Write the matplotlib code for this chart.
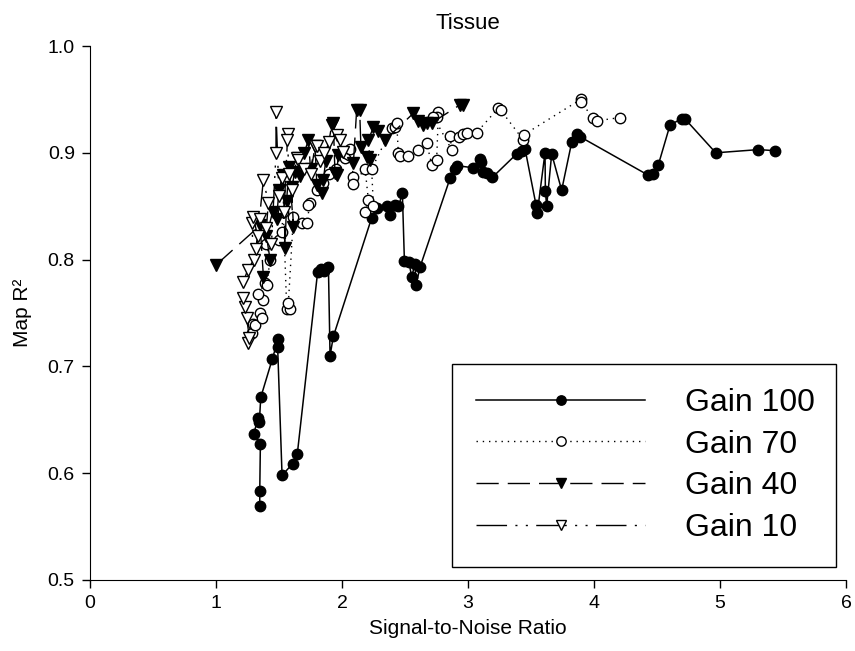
import matplotlib
matplotlib.use('Agg')
import matplotlib.pyplot as plt

plt.rcParams['font.family'] = ['Liberation Sans', 'DejaVu Sans']

# gain 100 (filled circles, solid line)
g100_x = [1.347, 1.347, 1.352, 1.299, 1.336, 1.344, 1.355, 1.447, 1.494, 1.489,
          1.524, 1.609, 1.645, 1.806, 1.830, 1.860, 1.892, 1.905, 1.931, 2.235,
          2.275, 2.354, 2.381, 2.421, 2.448, 2.479, 2.495, 2.530, 2.553, 2.579,
          2.587, 2.619, 2.857, 2.897, 2.910, 3.042, 3.095, 3.100, 3.122, 3.148,
          3.193, 3.386, 3.430, 3.452, 3.540, 3.550, 3.611, 3.614, 3.624, 3.664,
          3.743, 3.823, 3.868, 3.890, 4.431, 4.470, 4.511, 4.603, 4.696, 4.720,
          4.966, 5.304, 5.439]
g100_y = [0.569, 0.583, 0.627, 0.637, 0.652, 0.648, 0.671, 0.707, 0.726, 0.718,
          0.598, 0.609, 0.618, 0.788, 0.791, 0.789, 0.793, 0.710, 0.728, 0.839,
          0.848, 0.850, 0.842, 0.851, 0.850, 0.862, 0.799, 0.798, 0.784, 0.796,
          0.776, 0.793, 0.876, 0.885, 0.888, 0.886, 0.894, 0.891, 0.882, 0.881,
          0.877, 0.899, 0.902, 0.904, 0.851, 0.844, 0.900, 0.864, 0.850, 0.899,
          0.865, 0.910, 0.918, 0.915, 0.879, 0.880, 0.889, 0.926, 0.932, 0.932,
          0.900, 0.903, 0.902]

# gain 70 (open circles, dotted line)
g70_x = [1.283, 1.296, 1.310, 1.349, 1.362, 1.376, 1.336, 1.389, 1.402, 1.429,
         1.400, 1.502, 1.521, 1.534, 1.561, 1.587, 1.574, 1.614, 1.680, 1.720,
         1.746, 1.733, 1.800, 1.850, 1.900, 1.950, 2.020, 2.063, 2.090, 2.090,
         2.183, 2.209, 2.183, 2.249, 2.235, 2.394, 2.421, 2.434, 2.447, 2.460,
         2.526, 2.606, 2.672, 2.712, 2.751, 2.765, 2.751, 2.725, 2.870, 2.857,
         2.931, 2.958, 2.989, 3.069, 3.241, 3.259, 3.439, 3.444, 3.894, 3.894,
         3.989, 4.021, 4.206]
g70_y = [0.731, 0.740, 0.739, 0.750, 0.745, 0.762, 0.768, 0.778, 0.776, 0.800,
         0.815, 0.818, 0.826, 0.845, 0.754, 0.754, 0.759, 0.840, 0.834, 0.834,
         0.853, 0.851, 0.865, 0.872, 0.880, 0.885, 0.895, 0.904, 0.877, 0.871,
         0.885, 0.856, 0.845, 0.850, 0.885, 0.923, 0.924, 0.928, 0.900, 0.897,
         0.897, 0.903, 0.909, 0.889, 0.893, 0.938, 0.934, 0.934, 0.903, 0.916,
         0.915, 0.918, 0.919, 0.919, 0.942, 0.940, 0.912, 0.917, 0.950, 0.948,
         0.933, 0.930, 0.933]

# gain 40 (filled down triangles, dashed line)
g40_x = [1.000, 1.350, 1.376, 1.429, 1.400, 1.450, 1.480, 1.500, 1.534, 1.548,
         1.560, 1.580, 1.614, 1.600, 1.630, 1.667, 1.650, 1.700, 1.733, 1.750,
         1.786, 1.800, 1.839, 1.852, 1.870, 1.918, 1.931, 1.944, 1.958, 1.970,
         2.090, 2.116, 2.140, 2.150, 2.196, 2.222, 2.209, 2.249, 2.288, 2.341,
         2.566, 2.600, 2.646, 2.672, 2.712, 2.937, 2.960]
g40_y = [0.795, 0.832, 0.784, 0.800, 0.822, 0.845, 0.838, 0.865, 0.879, 0.811,
         0.855, 0.887, 0.831, 0.868, 0.882, 0.878, 0.895, 0.900, 0.912, 0.885,
         0.906, 0.870, 0.862, 0.875, 0.892, 0.926, 0.928, 0.881, 0.879, 0.898,
         0.890, 0.940, 0.940, 0.905, 0.896, 0.893, 0.912, 0.924, 0.920, 0.912,
         0.937, 0.930, 0.926, 0.928, 0.928, 0.945, 0.945]

# gain 10 (open down triangles, dash-dot-dot line)
g10_x = [1.257, 1.265, 1.243, 1.230, 1.217, 1.217, 1.250, 1.300, 1.283, 1.296,
         1.330, 1.350, 1.320, 1.376, 1.415, 1.400, 1.440, 1.476, 1.476, 1.500,
         1.521, 1.540, 1.569, 1.566, 1.580, 1.600, 1.640, 1.653, 1.700, 1.750,
         1.786, 1.799, 1.825, 1.860, 1.900, 1.958, 1.984, 2.010]
g10_y = [0.722, 0.727, 0.745, 0.756, 0.764, 0.779, 0.790, 0.800, 0.834, 0.840,
         0.822, 0.838, 0.810, 0.875, 0.853, 0.830, 0.815, 0.900, 0.938, 0.860,
         0.876, 0.845, 0.918, 0.912, 0.880, 0.865, 0.895, 0.893, 0.885, 0.880,
         0.906, 0.906, 0.892, 0.900, 0.910, 0.917, 0.912, 0.901]

fig = plt.figure(figsize=(8.55, 6.51), dpi=100)
ax = fig.add_axes([0.1053, 0.1091, 0.8842, 0.8202])

ax.plot(g100_x, g100_y, color='black', lw=1.1, ls='-', marker='o',
        ms=7.5, mfc='black', mec='black', label='Gain 100')
ax.plot(g70_x, g70_y, color='black', lw=1.0, ls=(0, (1, 3.5)), marker='o',
        ms=7.5, mfc='white', mec='black', mew=1.0, label='Gain 70')
ax.plot(g40_x, g40_y, color='black', lw=1.0, ls=(0, (16, 6.5)), marker='v',
        ms=8, mfc='black', mec='black', label='Gain 40')
ax.plot(g10_x, g10_y, color='black', lw=1.0, ls=(0, (22, 6, 1.5, 6, 1.5, 6)),
        marker='v', ms=8, mfc='white', mec='black', mew=1.0, label='Gain 10')

ax.set_xlim(0, 6)
ax.set_ylim(0.5, 1.0)
ax.set_xticks([0, 1, 2, 3, 4, 5, 6])
ax.set_yticks([0.5, 0.6, 0.7, 0.8, 0.9, 1.0])
ax.set_yticklabels(['0.5', '0.6', '0.7', '0.8', '0.9', '1.0'])
ax.spines['top'].set_visible(False)
ax.spines['right'].set_visible(False)
ax.tick_params(direction='out', length=6, width=1, labelsize=14, pad=5)

ax.set_xlabel('Signal-to-Noise Ratio', fontsize=15, labelpad=5)
ax.set_ylabel('Map R²', fontsize=15, labelpad=11)
ax.set_title('Tissue', fontsize=16, pad=12)

leg = ax.legend(loc='lower left', bbox_to_anchor=(0.479, 0.024, 0.508, 0.386),
                mode='expand', borderaxespad=0, fontsize=23, handlelength=5.3,
                handletextpad=1.25, borderpad=0.75, labelspacing=0.37,
                numpoints=1, fancybox=False, markerscale=0.9)
leg.get_frame().set_edgecolor('black')
leg.get_frame().set_linewidth(1.0)
leg.get_frame().set_alpha(1)

fig.savefig('out.png', dpi=100)
